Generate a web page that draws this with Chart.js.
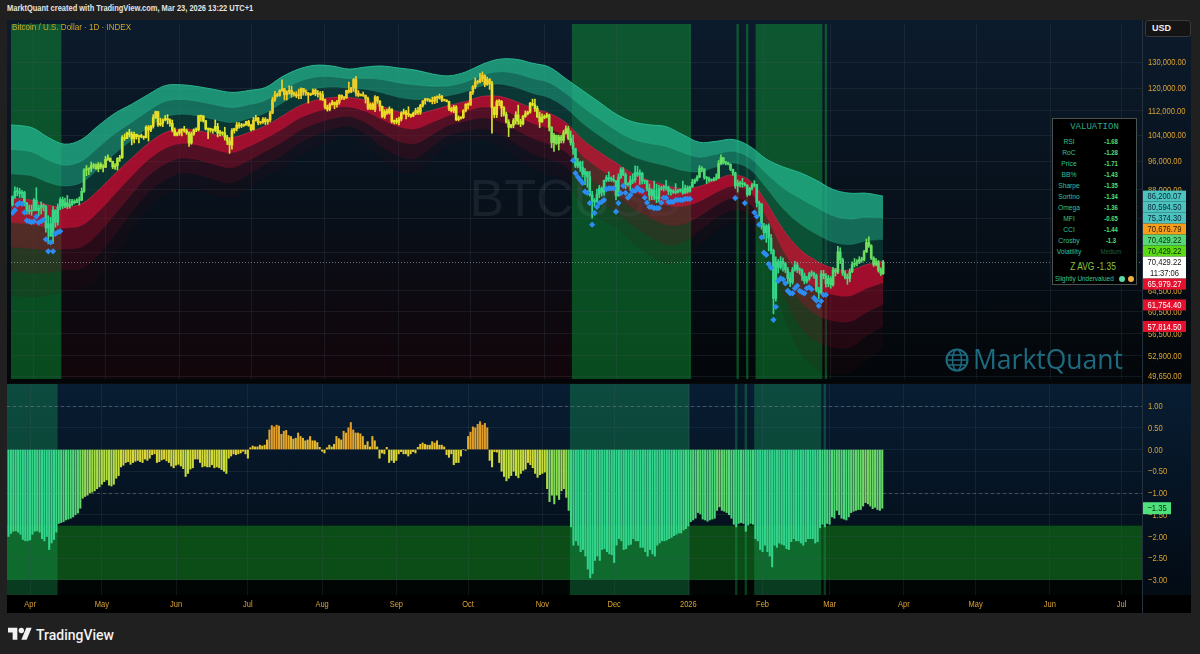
<!DOCTYPE html>
<html>
<head>
<meta charset="utf-8">
<title>BTCUSD valuation</title>
<script src="https://cdn.jsdelivr.net/npm/chart.js@4.4.1/dist/chart.umd.min.js"></script>
<style>
  html, body { margin: 0; padding: 0; background: #202020; }
  body { width: 1200px; height: 654px; position: relative; overflow: hidden;
         font-family: "Liberation Sans", Arial, sans-serif; }
  canvas { position: absolute; left: 7px; }
  #price { top: 20px; }
  #osc { top: 383px; }
  #head { position: absolute; left: 7px; top: 3px; font-size: 8.6px; font-weight: bold; color: #e4e4e4; white-space: nowrap;
          transform: scaleX(0.87); transform-origin: left center; }
  #usd { position: absolute; left: 1145px; top: 20px; width: 46px; height: 17px; box-sizing: border-box;
         background: #141414; border: 1px solid #3a3a3a; border-radius: 3px; color: #eee;
         font-size: 9px; font-weight: bold; line-height: 15px; padding-left: 6px; }
  #val { position: absolute; left: 1052px; top: 118px; width: 85px; height: 167px; box-sizing: border-box;
         background: #000; border: 1px solid #4a5250; }
  #val div { position: absolute; white-space: nowrap; line-height: 10px; height: 10px; }
  #val .lbl { left: 0; width: 32px; text-align: center; color: #2fc39b; font-size: 7.8px; transform: scaleX(0.86); }
  #val .num { left: 42px; width: 32px; text-align: center; color: #4fe07e; font-size: 7.8px; font-weight: bold; transform: scaleX(0.76); }
  #val .dim { color: #1d6238; font-weight: normal; }
  #val .ttl { left: 0; width: 83px; text-align: center; top: 3px; color: #29a88a;
              font: 9px "Liberation Mono", monospace; }
  #val .zavg { left: 0; width: 80px; text-align: center; top: 141px; height: 12px; line-height: 12px;
               color: #8cc43c; font-size: 10.5px; transform: scaleX(0.8); }
  #val .verdict { left: 2px; top: 155px; color: #35c99a; font-size: 8px; transform: scaleX(0.8); transform-origin: left center; }
  #val .dot { width: 6px; height: 6px; border-radius: 3px; top: 157px; }
  #foot { position: absolute; left: 8px; top: 625px; display: flex; align-items: center; gap: 4px;
          color: #f2f2f2; font: 500 14px Roboto, sans-serif; }
</style>
</head>
<body>
<div id="head">MarktQuant created with TradingView.com, Mar 23, 2026 13:22 UTC+1</div>
<canvas id="price" width="1184" height="363"></canvas>
<canvas id="osc" width="1184" height="230"></canvas>
<div id="usd">USD</div>
<div id="val"></div>
<div id="foot">
  <svg width="24" height="19" viewBox="0 0 36 28"><path d="M14 22H7V11H0V4h14v18zM28 22h-8l7.5-18h8L28 22z" fill="#f2f2f2"/><circle cx="20" cy="8" r="4" fill="#f2f2f2"/></svg>
  <span>TradingView</span>
</div>
<script>
// day 0 = Mar 22 2025, one bar per day from day 1 (Mar 23 2025) to day 366 (Mar 23 2026)
const prevClose = 84.0;

// daily closes, k USD
const closes = [
  86.1, 87.5, 87.4, 86.9, 87.2, 84.4, 82.6, 82.3, 82.5, // Mar
  85.2, 82.5, 83.1, 83.8, 83.5, 78.2, 79.2, 76.3, 82.6, 79.6, 83.4, 85.3, 83.7, 84.5, 83.6, 84.0, 84.9, 84.5, 85.1, 85.2, 87.5, 93.4, 93.7, 93.9, 94.7, 94.6, 93.8, 95.0, 94.3, 94.2, // Apr
  96.5, 96.9, 95.9, 94.3, 94.7, 96.8, 97.0, 103.2, 102.9, 104.7, 104.2, 102.8, 104.2, 103.5, 103.8, 103.5, 103.2, 106.5, 105.6, 106.8, 109.7, 111.7, 107.3, 107.8, 109.0, 109.4, 108.9, 107.8, 105.6, 103.9, 104.6, // May
  105.6, 105.8, 105.4, 104.7, 101.5, 104.3, 105.6, 105.7, 110.3, 110.2, 108.7, 105.9, 106.1, 105.5, 105.6, 106.8, 104.6, 104.9, 104.6, 103.3, 102.1, 100.9, 105.4, 106.0, 107.3, 106.9, 107.1, 107.3, 108.4, 107.1, // Jun
  105.7, 108.8, 109.6, 108.0, 108.2, 109.2, 108.3, 108.9, 111.3, 115.9, 117.5, 117.4, 119.1, 119.8, 117.7, 118.7, 119.3, 117.9, 117.9, 117.3, 117.4, 119.9, 118.8, 118.3, 117.6, 117.9, 119.4, 118.0, 117.9, 117.8, 115.8, // Jul
  113.3, 112.5, 114.2, 115.0, 114.1, 115.0, 117.5, 116.7, 116.5, 119.3, 118.7, 120.2, 123.3, 118.3, 117.4, 117.5, 117.4, 116.3, 112.9, 114.3, 112.5, 116.9, 115.4, 113.5, 110.1, 111.8, 111.3, 112.6, 108.4, 108.8, 108.2, // Aug
  109.2, 111.2, 111.7, 110.7, 110.7, 110.2, 111.2, 112.1, 111.5, 113.9, 115.5, 116.1, 115.9, 115.3, 115.4, 116.8, 116.5, 117.1, 115.7, 115.7, 115.3, 112.7, 112.0, 113.3, 109.0, 109.6, 109.7, 112.1, 114.3, 114.0, // Sep
  118.6, 120.6, 122.3, 122.4, 123.5, 124.8, 121.5, 123.3, 121.7, 113.2, 110.7, 115.2, 115.3, 113.1, 110.8, 108.2, 106.5, 107.2, 108.7, 110.6, 108.5, 107.6, 110.1, 111.0, 111.6, 114.6, 114.1, 112.9, 110.0, 108.3, 109.6, // Oct
  110.1, 110.6, 106.5, 101.6, 103.9, 101.3, 103.4, 102.3, 104.7, 106.0, 103.0, 101.6, 99.7, 94.6, 95.6, 94.2, 92.2, 92.9, 91.5, 86.6, 85.1, 84.7, 86.8, 88.3, 87.3, 90.5, 91.3, 90.9, 90.8, 90.4, // Nov
  86.3, 91.3, 93.5, 92.1, 89.4, 89.3, 90.4, 90.6, 92.7, 92.0, 92.5, 90.3, 90.3, 88.2, 86.4, 87.8, 86.1, 85.5, 88.1, 88.4, 88.6, 88.5, 87.5, 87.6, 87.2, 87.3, 87.8, 87.8, 87.1, 88.4, 87.5, // Dec
  88.7, 90.0, 90.6, 91.4, 93.9, 93.7, 91.3, 91.0, 90.5, 90.6, 90.8, 91.2, 95.3, 97.0, 95.6, 95.5, 95.1, 93.6, 92.6, 89.0, 89.8, 89.5, 89.5, 89.2, 86.6, 88.3, 89.2, 89.3, 84.5, 84.2, 78.6, // Jan
  77.1, 78.7, 75.8, 73.0, 63.0, 70.5, 69.3, 70.6, 70.1, 68.8, 67.0, 66.2, 68.8, 69.8, 68.8, 68.7, 67.5, 66.4, 66.9, 67.9, 68.0, 67.6, 64.6, 64.1, 67.9, 67.5, 65.9, 67.0, // Feb
  65.7, 68.8, 68.3, 72.7, 70.9, 68.1, 67.3, 67.0, 68.4, 69.9, 70.2, 70.5, 70.9, 70.9, 72.7, 74.8, 74.1, 71.3, 69.9, 70.5, 68.7, 68.0, 70.43 // Mar
];
const highs = [
  86.3, 88.7, 88.5, 88.3, 87.8, 87.5, 84.6, 83.9, 83.9,
  85.6, 88.5, 83.9, 84.7, 84.2, 83.8, 81.2, 80.8, 83.5, 82.7, 84.2, 85.8, 86.0, 85.7, 86.4, 85.4, 85.4, 85.3, 85.6, 86.0, 88.4, 93.8, 94.7, 94.0, 95.7, 95.3, 95.2, 95.6, 95.5, 95.0,
  97.4, 97.9, 96.9, 96.0, 95.3, 97.0, 97.7, 103.8, 104.3, 104.9, 105.8, 105.0, 104.9, 104.3, 104.0, 104.3, 103.7, 107.0, 107.1, 107.1, 110.7, 111.9, 111.8, 109.5, 109.3, 110.4, 110.7, 109.3, 108.9, 106.3, 104.9,
  105.9, 105.9, 106.8, 105.9, 105.0, 105.0, 106.0, 106.3, 110.5, 110.4, 110.4, 108.8, 106.2, 106.2, 106.0, 108.9, 107.8, 105.5, 105.0, 106.5, 103.9, 103.1, 106.1, 106.2, 108.1, 108.0, 107.8, 107.6, 108.5, 108.8,
  107.5, 109.8, 110.5, 109.8, 108.4, 109.7, 109.7, 109.2, 111.9, 116.8, 118.9, 118.2, 119.5, 123.2, 120.0, 119.1, 120.9, 120.8, 118.6, 118.8, 119.7, 120.2, 120.0, 119.5, 118.5, 118.3, 119.8, 119.8, 119.2, 118.8, 118.9,
  116.1, 114.0, 114.7, 115.7, 115.1, 115.7, 117.7, 117.6, 117.0, 119.3, 122.3, 120.3, 123.7, 124.5, 119.2, 118.0, 118.6, 117.6, 116.8, 114.7, 114.8, 117.4, 117.0, 115.6, 113.7, 112.4, 112.6, 113.4, 112.7, 108.9, 109.5,
  109.9, 111.7, 112.6, 112.2, 113.4, 110.9, 111.6, 112.9, 113.2, 114.3, 115.6, 116.4, 116.3, 116.1, 116.8, 117.0, 117.3, 117.9, 117.5, 116.1, 115.9, 115.4, 113.3, 113.9, 113.8, 110.3, 110.0, 112.4, 114.5, 114.8,
  118.9, 121.0, 123.9, 122.9, 125.7, 126.2, 125.1, 124.2, 123.7, 122.6, 113.4, 115.8, 115.9, 115.6, 113.5, 111.6, 109.0, 107.5, 109.4, 111.7, 114.0, 109.2, 110.5, 112.0, 111.9, 115.0, 116.1, 116.1, 113.6, 111.6, 111.0,
  110.6, 111.2, 110.8, 106.7, 104.5, 104.0, 104.0, 103.9, 105.5, 107.0, 106.8, 105.3, 104.0, 99.9, 96.8, 96.0, 96.0, 93.8, 93.0, 93.0, 87.5, 85.6, 88.1, 89.1, 88.7, 90.6, 91.9, 92.9, 91.5, 91.9,
  90.5, 92.3, 94.1, 94.1, 92.6, 89.9, 91.7, 92.3, 94.6, 94.5, 93.5, 92.8, 90.6, 90.5, 89.5, 88.2, 90.3, 89.4, 89.1, 88.9, 89.1, 90.5, 88.9, 88.2, 88.0, 89.6, 88.0, 88.1, 90.3, 89.2, 89.0,
  88.9, 90.8, 90.9, 91.8, 94.7, 94.4, 93.8, 91.6, 91.4, 90.9, 91.3, 92.3, 96.2, 97.9, 97.1, 95.9, 95.6, 95.2, 93.7, 92.8, 90.6, 90.3, 91.1, 89.9, 89.3, 88.6, 89.6, 90.4, 89.4, 84.9, 84.3,
  79.3, 79.0, 79.2, 76.7, 73.3, 71.6, 71.0, 71.6, 71.3, 70.4, 69.3, 68.2, 69.3, 70.6, 70.4, 69.2, 69.0, 68.1, 67.4, 68.3, 68.6, 68.3, 67.9, 65.2, 68.6, 68.7, 68.0, 67.6,
  67.4, 69.3, 69.1, 73.9, 73.6, 71.3, 68.6, 67.9, 69.0, 70.5, 71.2, 71.0, 71.6, 71.5, 73.0, 75.6, 76.1, 74.3, 71.6, 71.2, 70.8, 69.2, 70.8
];
const lows = [
  83.6, 85.6, 86.3, 85.9, 85.8, 83.7, 81.6, 81.6, 81.3,
  82.4, 82.4, 81.2, 81.6, 82.4, 77.2, 74.5, 76.2, 74.6, 78.4, 78.9, 82.7, 83.0, 83.2, 83.0, 83.1, 83.8, 84.2, 84.5, 83.9, 85.0, 87.2, 91.8, 92.1, 92.9, 93.9, 93.6, 92.9, 93.7, 92.9,
  94.1, 96.2, 95.8, 93.8, 93.6, 93.4, 95.9, 96.8, 102.3, 102.8, 103.4, 100.9, 101.5, 102.7, 101.5, 103.1, 102.6, 103.1, 102.1, 105.1, 106.2, 109.4, 106.8, 106.9, 106.7, 108.6, 107.6, 106.8, 105.0, 103.7, 103.7,
  103.9, 103.7, 104.9, 104.2, 100.4, 101.1, 103.9, 105.1, 105.3, 108.4, 108.2, 105.6, 102.8, 104.9, 104.6, 105.1, 103.4, 103.7, 103.9, 102.4, 101.0, 98.3, 99.6, 104.6, 105.3, 106.2, 106.4, 106.8, 107.1, 106.8,
  105.3, 105.6, 108.5, 107.3, 107.5, 107.8, 107.4, 107.5, 108.3, 111.0, 115.3, 116.9, 117.1, 118.9, 115.8, 115.8, 117.9, 116.8, 117.2, 116.6, 116.2, 116.3, 117.5, 117.4, 114.7, 117.4, 117.7, 117.3, 116.8, 115.8, 115.6,
  112.7, 111.9, 112.0, 114.0, 112.7, 113.3, 114.3, 115.9, 115.9, 116.4, 118.2, 118.4, 118.9, 117.2, 116.9, 117.2, 117.1, 114.7, 112.4, 112.4, 112.5, 111.7, 114.6, 112.0, 109.7, 109.4, 110.8, 110.9, 107.9, 107.6, 107.6,
  107.3, 108.6, 110.8, 109.3, 110.0, 109.8, 110.0, 110.7, 110.8, 110.8, 113.3, 114.3, 115.3, 115.1, 114.4, 114.5, 114.8, 116.1, 115.2, 115.4, 115.1, 112.1, 111.6, 111.4, 108.7, 108.6, 109.2, 109.4, 111.6, 112.7,
  113.9, 117.8, 119.9, 121.6, 122.0, 122.5, 120.6, 121.1, 119.6, 104.6, 109.7, 109.7, 113.8, 110.1, 110.2, 107.9, 103.5, 106.3, 106.3, 107.5, 107.4, 106.7, 107.3, 109.8, 110.6, 111.2, 113.7, 111.8, 109.7, 106.4, 108.1,
  109.3, 109.6, 105.3, 100.0, 98.9, 101.0, 99.3, 101.5, 101.5, 104.3, 102.5, 100.8, 98.0, 94.1, 94.0, 93.0, 91.4, 89.3, 88.6, 86.2, 80.6, 83.6, 84.7, 85.8, 86.2, 86.4, 90.1, 90.2, 90.2, 90.0,
  85.2, 86.2, 91.0, 91.8, 88.2, 88.9, 87.7, 89.6, 89.9, 91.6, 89.4, 89.5, 89.6, 87.6, 85.1, 85.3, 85.3, 84.5, 84.8, 87.8, 87.6, 87.8, 86.6, 86.5, 86.9, 86.8, 87.1, 87.3, 86.7, 86.9, 87.0,
  87.3, 88.6, 89.6, 90.3, 91.2, 92.9, 90.8, 89.6, 90.0, 90.2, 90.3, 90.5, 91.0, 95.0, 95.2, 94.9, 94.9, 93.2, 91.9, 88.3, 87.3, 88.7, 88.6, 88.9, 86.1, 86.4, 87.9, 88.7, 83.4, 81.2, 77.9,
  75.6, 74.8, 72.9, 72.2, 60.1, 62.5, 68.1, 68.9, 68.5, 68.2, 65.9, 65.3, 65.8, 68.5, 68.2, 67.9, 66.6, 65.9, 66.0, 66.6, 67.4, 67.0, 64.3, 62.9, 63.9, 66.9, 65.2, 65.3,
  65.0, 65.4, 67.5, 68.0, 70.1, 67.6, 66.9, 65.8, 66.3, 68.2, 69.4, 69.6, 70.1, 70.4, 70.7, 72.5, 73.7, 71.0, 69.5, 69.6, 68.3, 67.6, 67.8
];

// Z AVG valuation score, one value per bar
const zAvg = [
  -2.0, -1.93, -1.88, -1.87, -1.9, -1.95, -2.07, -2.1, -2.1,
  -2.08, -1.95, -1.88, -1.87, -1.9, -2.05, -2.1, -2.0, -2.3, -2.15, -2.07, -1.9, -1.7, -1.68, -1.66, -1.62, -1.6, -1.58, -1.55, -1.5, -1.46, -1.35, -1.12, -1.08, -1.05, -1.0, -0.98, -0.95, -0.9, -0.86,
  -0.8, -0.74, -0.7, -0.82, -0.84, -0.8, -0.66, -0.6, -0.4, -0.36, -0.3, -0.28, -0.34, -0.3, -0.27, -0.25, -0.28, -0.3, -0.22, -0.25, -0.2, -0.12, -0.1, -0.3, -0.28, -0.24, -0.22, -0.26, -0.3, -0.38, -0.42,
  -0.36, -0.34, -0.38, -0.44, -0.62, -0.55, -0.45, -0.42, -0.22, -0.22, -0.3, -0.4, -0.38, -0.4, -0.4, -0.35, -0.42, -0.4, -0.42, -0.46, -0.5, -0.55, -0.2, -0.15, -0.1, -0.12, -0.1, -0.08, -0.04, -0.1,
  -0.2, 0.04, 0.08, 0.06, 0.06, 0.1, 0.08, 0.1, 0.22, 0.45, 0.55, 0.52, 0.56, 0.54, 0.35, 0.42, 0.44, 0.32, 0.3, 0.24, 0.26, 0.38, 0.3, 0.26, 0.2, 0.22, 0.3, 0.2, 0.2, 0.16, 0.05,
  -0.04, -0.08, 0.04, 0.1, 0.06, 0.12, 0.3, 0.25, 0.22, 0.42, 0.38, 0.5, 0.62, 0.45, 0.38, 0.38, 0.36, 0.3, 0.1, 0.18, 0.06, 0.3, 0.2, 0.06, -0.2, -0.08, -0.1, 0.05, -0.3, -0.25, -0.3,
  -0.25, -0.1, -0.05, -0.1, -0.1, -0.15, -0.1, -0.05, -0.08, 0.05, 0.12, 0.15, 0.12, 0.1, 0.1, 0.18, 0.15, 0.2, 0.1, 0.1, 0.06, -0.12, -0.18, -0.1, -0.35, -0.3, -0.3, -0.15, 0.0, -0.02,
  0.3, 0.4, 0.52, 0.5, 0.58, 0.64, 0.56, 0.6, 0.5, -0.25, -0.4, -0.05, -0.06, -0.3, -0.5, -0.62, -0.72, -0.66, -0.6, -0.5, -0.6, -0.65, -0.55, -0.48, -0.45, -0.3, -0.35, -0.42, -0.55, -0.64, -0.58,
  -0.55, -0.52, -0.9, -1.2, -1.05, -1.25, -1.05, -1.15, -0.95, -0.9, -1.1, -1.4, -1.78, -2.2, -2.1, -2.2, -2.35, -2.3, -2.45, -2.75, -2.95, -2.85, -2.55, -2.45, -2.55, -2.3, -2.28, -2.35, -2.4, -2.42,
  -2.6, -2.2, -2.05, -2.1, -2.3, -2.28, -2.2, -2.18, -2.05, -2.1, -2.1, -2.25, -2.25, -2.35, -2.45, -2.3, -2.4, -2.45, -2.2, -2.15, -2.1, -2.1, -2.08, -2.05, -2.02, -1.98, -1.95, -1.92, -1.92, -1.85, -1.82,
  -1.76, -1.66, -1.62, -1.58, -1.45, -1.48, -1.6, -1.62, -1.65, -1.62, -1.6, -1.58, -1.4, -1.32, -1.4, -1.42, -1.45, -1.5, -1.58, -1.72, -1.78, -1.7, -1.68, -1.7, -1.88, -1.74, -1.7, -1.72, -2.05, -2.1, -2.3,
  -2.35, -2.2, -2.35, -2.45, -2.7, -2.2, -2.25, -2.15, -2.18, -2.2, -2.28, -2.3, -2.12, -2.05, -2.1, -2.1, -2.15, -2.2, -2.12, -2.05, -2.05, -2.05, -2.15, -2.12, -1.8, -1.72, -1.78, -1.7,
  -1.72, -1.55, -1.58, -1.4, -1.5, -1.58, -1.6, -1.62, -1.55, -1.45, -1.42, -1.4, -1.38, -1.38, -1.3, -1.22, -1.25, -1.3, -1.36, -1.33, -1.38, -1.4, -1.35
];

// valuation band envelope, weekly samples (k USD): top of green cloud and green/red boundary
const bandDays = [0, 9, 16, 23, 30, 37, 44, 51, 58, 65, 72, 79, 86, 93, 100, 107, 114, 121, 128, 135, 142, 149, 156, 163, 170, 177, 184, 191, 198, 205, 212, 219, 226, 233, 240, 247, 254, 261, 268, 275, 282, 289, 296, 303, 310, 317, 324, 331, 338, 345, 352, 359, 366];
const bandTop = [107.3, 106.4, 103.2, 101.1, 102.6, 107.0, 111.2, 114.3, 117.8, 121.0, 121.3, 120.6, 119.5, 118.5, 119.2, 120.3, 124.3, 127.3, 128.8, 128.5, 127.3, 128.1, 128.5, 127.7, 126.9, 125.4, 124.7, 126.2, 129.2, 131.2, 131.2, 129.6, 128.1, 123.6, 119.2, 115.0, 110.9, 108.3, 107.3, 106.7, 104.1, 101.7, 102.0, 102.6, 100.5, 96.6, 94.3, 92.7, 90.5, 88.0, 87.0, 87.0, 86.2];
const bandMid = [85.7, 85.2, 83.9, 83.4, 84.2, 87.8, 92.4, 96.9, 101.4, 104.8, 106.0, 105.4, 104.1, 103.2, 104.8, 107.0, 110.2, 113.6, 115.7, 116.7, 116.7, 115.7, 113.6, 111.6, 110.9, 112.2, 113.9, 115.3, 117.1, 117.1, 115.3, 112.9, 111.2, 108.0, 102.6, 98.7, 95.5, 92.4, 90.5, 89.1, 88.3, 88.8, 90.7, 92.1, 90.5, 84.7, 77.9, 73.3, 70.7, 69.1, 68.7, 69.9, 70.68];

// blue signal diamonds: runs starting at a given day (k USD)
const diamondStart = [1, 236, 304, 308, 312];
const diamondVals = [
  [81.9, 82.6, 84.0, 84.4, 84.2, 82.0, 80.0, 79.8, 79.6, 79.8, 81.0, 79.5, 79.8, 80.2, 75.5, 72.8, 74.8, 72.8, 76.8, 77.2, 77.4],
  [96.2, 92.5, 91.4, 90.6, 89.8, 87.4, 87.1, 84.4, 79.0, 81.9, 83.4, 84.4, 84.7, 85.2, 88.1, 88.3, 88.3, 88.3, 82.2, 84.4,
   87.0, 89.0, 87.1, 85.8, 86.5, 87.6, 87.6, 88.5, 87.8, 87.6, 85.8, 84.5, 83.4, 83.4, 83.1, 83.1, 83.1, 84.5, 85.8, 85.8,
   84.7, 84.7, 84.7, 85.2, 85.2, 85.2, 85.2, 85.5, 85.5, 85.5],
  [85.7],
  [84.4],
  [82.0, 81.0, 79.0, 76.0, 72.5, 72.0, 70.0, 69.2, 59.0, 61.4, 66.5, 67.0, 66.8, 66.0, 64.5, 64.0, 64.0, 65.0, 65.5, 64.5,
   64.2, 64.0, 65.0, 65.2, 64.8, 63.1, 62.6, 61.6, 62.5, 63.7, 63.7]
];

// undervaluation highlight spans and the calmer overvalued stretch (day ranges)
const hiZones = [[0, 21.5], [235.5, 285.5], [304.5, 305.5], [308.5, 309.5], [312.5, 340.5], [341.5, 342.5]];
const warmZones = [[21.5, 235.5]];

// axes
const priceTicks = [130000, 120000, 112000, 104000, 96000, 88000, 80500, 72500, 64500, 60500, 56500, 52900, 49650];
const oscTicks = [1, 0.5, 0, -0.5, -1, -1.5, -2, -2.5, -3];
const monthDays = [10, 40, 71, 101, 132, 163, 193, 224, 254, 285, 316, 344, 375, 405, 436, 466];
const monthLabels = ['Apr', 'May', 'Jun', 'Jul', 'Aug', 'Sep', 'Oct', 'Nov', 'Dec', '2026', 'Feb', 'Mar', 'Apr', 'May', 'Jun', 'Jul'];

// last-value tags on the price scale
const lastLevels = [86200.07, 80594.50, 75374.30, 70676.79, 70429.22, 70429.22, 70429.22, 65979.27, 61754.40, 57814.50];
const lastBg = ['#4cc3bf', '#4cc3bf', '#4cc3bf', '#f79d1c', '#58d77a', '#5bd916', '#ffffff', '#e3112d', '#e3112d', '#e3112d'];
const lastFg = ['#0b2530', '#0b2530', '#0b2530', '#2a1800', '#0a2a12', '#0a2a05', '#131313', '#ffffff', '#ffffff', '#ffffff'];
const countdown = '11:37:06';

// valuation table
const valNames = ['RSI', 'RoC', 'Price', 'BB%', 'Sharpe', 'Sortino', 'Omega', 'MFI', 'CCI', 'Crosby', 'Volatility'];
const valScores = ['-1.68', '-1.28', '-1.71', '-1.43', '-1.35', '-1.34', '-1.36', '-0.65', '-1.44', '-1.3', 'Medium'];
const zAvgText = 'Z AVG -1.35';
const verdict = 'Slightly Undervalued';

const X_MIN = 0.376, X_MAX = 474.5;
const P_MIN = 49210, P_MAX = 146180;
const O_MIN = -3.345, O_MAX = 1.529;
const FONT = '"Liberation Sans", Arial, sans-serif';
const GOLD = '#dba233';
const GRID = 'rgba(70,85,100,0.22)';
const SQUEEZE = 0.8; // labels are drawn condensed like the original narrow UI font
Chart.defaults.font.family = FONT;

// ---------- helpers ----------
function ramp(stops, cols) {
  const rgb = c => `rgb(${c.map(Math.round).join(',')})`;
  return z => {
    if (z <= stops[0]) return rgb(cols[0]);
    for (let i = 1; i < stops.length; i++) {
      if (z <= stops[i]) {
        const t = (z - stops[i - 1]) / (stops[i] - stops[i - 1]);
        return rgb(cols[i - 1].map((v, k) => v + (cols[i][k] - v) * t));
      }
    }
    return rgb(cols[cols.length - 1]);
  };
}
const oscColor = ramp([-2.0, -1.5, -1.0, -0.5, 0.0, 0.5],
  [[50, 212, 140], [84, 216, 118], [156, 220, 76], [204, 222, 60], [232, 204, 52], [226, 158, 40]]);
const candleColor = ramp([-2.0, -1.5, -1.0, -0.6, -0.3, 0.3],
  [[52, 214, 138], [80, 218, 112], [150, 228, 70], [200, 232, 50], [232, 228, 40], [240, 206, 40]]);

const fmtPrice = v => Number(v).toLocaleString('en-US', { minimumFractionDigits: 2, maximumFractionDigits: 2 });
const fmtOsc = v => (v < 0 ? '\u2212' : '') + Math.abs(v).toFixed(2);

function squeezeText(ctx, text, x, y, align, sx = SQUEEZE) {
  ctx.save();
  ctx.translate(x, y);
  ctx.scale(sx, 1);
  ctx.textAlign = align;
  ctx.fillText(text, 0, 0);
  ctx.restore();
}

function drawZones(chart, zones, color) {
  const { ctx, chartArea: a, scales: { x } } = chart;
  ctx.save();
  ctx.fillStyle = color;
  zones.forEach(([s, e]) => {
    const x0 = Math.max(a.left, x.getPixelForValue(s));
    const x1 = Math.min(a.right, x.getPixelForValue(e));
    if (x1 > x0) ctx.fillRect(x0, a.top, x1 - x0, a.bottom - a.top);
  });
  ctx.restore();
}

function drawAxisLabels(chart, ticks, fmt) {
  const { ctx, chartArea: a, scales: { y } } = chart;
  ctx.save();
  ctx.fillStyle = GOLD;
  ctx.font = '9.5px ' + FONT;
  ctx.textBaseline = 'middle';
  ticks.forEach(v => squeezeText(ctx, fmt(v), a.right + 6, y.getPixelForValue(v) + 0.5, 'left'));
  ctx.restore();
}

// ---------- price pane ----------
const days = closes.map((_, i) => i + 1);
const opens = closes.map((c, i) => (i === 0 ? prevClose : closes[i - 1]));

const lnTop = bandTop.map(Math.log), lnMid = bandMid.map(Math.log);
const stepLn = lnTop.map((t, i) => (t - lnMid[i]) / 3);
const bandLevels = [3, 2, 1, 0, -1, -2, -3, -4];
const bandFills = ['rgba(34,176,136,0.80)', 'rgba(26,148,116,0.70)', 'rgba(12,82,68,0.52)',
                   'rgba(200,14,50,0.80)', 'rgba(140,12,38,0.55)', 'rgba(100,10,28,0.32)', 'rgba(70,8,20,0.12)', 'transparent'];
const bandEdges = ['rgba(40,190,150,0.9)', 'rgba(50,190,150,0.5)', 'rgba(40,150,120,0.4)',
                   'rgba(225,30,70,0.9)', 'rgba(190,30,60,0.4)', 'rgba(140,25,45,0.26)', 'rgba(110,20,35,0.16)', 'rgba(90,15,30,0.08)'];

const bandSets = bandLevels.map((k, j) => ({
  type: 'line',
  data: bandDays.map((d, i) => ({ x: d, y: 1000 * Math.exp(lnMid[i] + k * stepLn[i]) })),
  borderColor: bandEdges[j],
  borderWidth: 1,
  backgroundColor: bandFills[j],
  fill: j < bandLevels.length - 1 ? '+1' : false,
  pointRadius: 0,
  tension: 0.35,
  order: 20 + j
}));

const candleColors = zAvg.map(candleColor);
const bodySet = {
  type: 'bar',
  data: days.map((d, i) => ({ x: d, y: [opens[i] * 1000, closes[i] * 1000] })),
  backgroundColor: candleColors,
  barThickness: 2,
  minBarLength: 1,
  grouped: false,
  order: 2
};
const wickSet = {
  type: 'bar',
  data: days.map((d, i) => ({
    x: d,
    y: [Math.min(lows[i], opens[i], closes[i]) * 1000, Math.max(highs[i], opens[i], closes[i]) * 1000]
  })),
  backgroundColor: candleColors,
  barThickness: 1,
  grouped: false,
  order: 3
};
const diamondPts = [];
diamondStart.forEach((s, r) => diamondVals[r].forEach((v, i) => diamondPts.push({ x: s + i, y: v * 1000 })));
const diamondSet = {
  type: 'line',
  data: diamondPts,
  showLine: false,
  pointStyle: 'rectRot',
  pointRadius: 3.1,
  pointBackgroundColor: '#2b8df2',
  pointBorderWidth: 0,
  order: 1
};

const priceBg = {
  id: 'priceBg',
  beforeDraw(chart) {
    const { ctx, width, height, chartArea: a, scales: { x } } = chart;
    const g = ctx.createLinearGradient(0, 0, 0, height);
    g.addColorStop(0, '#0c1b2c');
    g.addColorStop(0.55, '#07101a');
    g.addColorStop(1, '#030609');
    ctx.fillStyle = g;
    ctx.fillRect(0, 0, width, height);
    // faint maroon wash at the bottom of the overvalued stretch
    const w = ctx.createLinearGradient(0, a.top + 170, 0, a.bottom);
    w.addColorStop(0, 'rgba(50,4,12,0)');
    w.addColorStop(1, 'rgba(50,4,12,0.32)');
    ctx.fillStyle = w;
    warmZones.forEach(([s, e]) => {
      const x0 = x.getPixelForValue(s), x1 = x.getPixelForValue(e);
      ctx.fillRect(x0, a.top + 170, x1 - x0, a.bottom - a.top - 170);
    });
    drawZones(chart, hiZones, 'rgba(16,165,58,0.44)');
  },
  beforeDatasetsDraw(chart) {
    const { ctx, chartArea: a } = chart;
    ctx.save();
    ctx.font = '52px ' + FONT;
    ctx.fillStyle = 'rgba(140,155,170,0.12)';
    ctx.textAlign = 'center';
    ctx.textBaseline = 'middle';
    ctx.fillText('BTCUSD', (a.left + a.right) / 2, (a.top + a.bottom) / 2);
    ctx.restore();
  }
};

const priceOverlay = {
  id: 'priceOverlay',
  afterDraw(chart) {
    const { ctx, chartArea: a, scales: { y } } = chart;
    ctx.save();
    // pane separator
    ctx.fillStyle = '#26323e';
    ctx.fillRect(a.right, 0, 1, chart.height);
    // last price dotted line
    const yp = Math.round(y.getPixelForValue(lastLevels[6])) + 0.5;
    ctx.strokeStyle = 'rgba(150,160,170,0.7)';
    ctx.setLineDash([1, 2]);
    ctx.beginPath(); ctx.moveTo(a.left, yp); ctx.lineTo(a.right, yp); ctx.stroke();
    ctx.setLineDash([]);
    // watermark logo
    const lc = '#1e6b80', cx = 950, cy = 340, r = 10.5;
    ctx.strokeStyle = lc; ctx.lineWidth = 2;
    ctx.beginPath(); ctx.arc(cx, cy, r, 0, Math.PI * 2); ctx.stroke();
    ctx.lineWidth = 1.5;
    ctx.beginPath(); ctx.ellipse(cx, cy, 4.5, r, 0, 0, Math.PI * 2); ctx.stroke();
    ctx.beginPath();
    ctx.moveTo(cx - r, cy); ctx.lineTo(cx + r, cy);
    ctx.moveTo(cx - r + 2, cy - 5); ctx.lineTo(cx + r - 2, cy - 5);
    ctx.moveTo(cx - r + 2, cy + 5); ctx.lineTo(cx + r - 2, cy + 5);
    ctx.stroke();
    ctx.fillStyle = lc;
    ctx.font = '26.5px "Open Sans", sans-serif';
    ctx.textAlign = 'left';
    ctx.textBaseline = 'alphabetic';
    ctx.fillText('MarktQuant', 966, 349);
    // symbol title
    ctx.fillStyle = '#cfa526';
    ctx.font = '9.6px ' + FONT;
    ctx.textBaseline = 'middle';
    squeezeText(ctx, 'Bitcoin / U.S. Dollar \u00b7 1D \u00b7 INDEX', 5, 7, 'left', 0.84);
    ctx.restore();

    drawAxisLabels(chart, priceTicks, fmtPrice);

    // last-value tags, stacked away from the live price tag
    ctx.save();
    const x0 = a.right + 1, w = 43, h = 11, anchor = 6;
    const pos = lastLevels.map(v => y.getPixelForValue(v));
    const top = [];
    top[anchor] = pos[anchor] - h / 2;
    let lim = top[anchor];
    for (let i = anchor - 1; i >= 0; i--) { top[i] = Math.min(pos[i] - h / 2, lim - h); lim = top[i]; }
    lim = top[anchor] + 2 * h;
    for (let i = anchor + 1; i < lastLevels.length; i++) { top[i] = Math.max(pos[i] - h / 2, lim); lim = top[i] + h; }
    ctx.font = '9.5px ' + FONT;
    ctx.textBaseline = 'middle';
    lastLevels.forEach((v, i) => {
      ctx.fillStyle = lastBg[i];
      ctx.fillRect(x0, top[i], w, i === anchor ? 2 * h : h);
      ctx.fillStyle = lastFg[i];
      squeezeText(ctx, fmtPrice(v), x0 + w / 2, top[i] + h / 2 + 0.5, 'center');
      if (i === anchor) squeezeText(ctx, countdown, x0 + w / 2, top[i] + h * 1.5 + 0.5, 'center');
    });
    ctx.restore();
  }
};

new Chart(document.getElementById('price'), {
  type: 'bar',
  data: { datasets: [...bandSets, bodySet, wickSet, diamondSet] },
  options: {
    responsive: false,
    animation: false,
    events: [],
    layout: { padding: 0 },
    plugins: { legend: { display: false }, tooltip: { enabled: false } },
    scales: {
      x: {
        type: 'linear', min: X_MIN, max: X_MAX, offset: false,
        grid: { color: GRID, drawTicks: false, offset: false },
        border: { display: false },
        ticks: { display: false, autoSkip: false },
        afterBuildTicks: s => { s.ticks = monthDays.map(v => ({ value: v })); },
        afterFit: s => { s.height = 0; s.paddingLeft = 0; s.paddingRight = 0; }
      },
      y: {
        type: 'logarithmic', position: 'right', min: P_MIN, max: P_MAX,
        grid: { color: GRID, drawTicks: false },
        border: { display: false },
        ticks: { display: false, autoSkip: false },
        afterBuildTicks: s => { s.ticks = priceTicks.map(v => ({ value: v })); },
        afterFit: s => { s.width = 49; s.paddingTop = 0; s.paddingBottom = 0; }
      }
    }
  },
  plugins: [priceBg, priceOverlay]
});

// ---------- oscillator pane ----------
const oscBg = {
  id: 'oscBg',
  beforeDraw(chart) {
    const { ctx, chartArea: a, width, height, scales: { y } } = chart;
    const g = ctx.createLinearGradient(0, 0, 0, a.bottom);
    g.addColorStop(0, '#081d33');
    g.addColorStop(1, '#030b14');
    ctx.fillStyle = g;
    ctx.fillRect(0, 0, width, a.bottom);
    ctx.fillStyle = '#000';
    ctx.fillRect(0, a.bottom, width, height - a.bottom);
    const y1 = y.getPixelForValue(-1.75), y2 = y.getPixelForValue(-3);
    ctx.fillStyle = '#0b4c17';
    ctx.fillRect(a.left, y1, a.right - a.left, y2 - y1);
    ctx.fillStyle = '#010504';
    ctx.fillRect(a.left, y2, a.right - a.left, a.bottom - y2);
    drawZones(chart, hiZones, 'rgba(24,170,90,0.33)');
  },
  beforeDatasetsDraw(chart) {
    const { ctx, chartArea: a, scales: { y } } = chart;
    ctx.save();
    ctx.strokeStyle = 'rgba(130,140,150,0.45)';
    ctx.setLineDash([3, 3]);
    [1, -1].forEach(v => {
      const yy = Math.round(y.getPixelForValue(v)) + 0.5;
      ctx.beginPath(); ctx.moveTo(a.left, yy); ctx.lineTo(a.right, yy); ctx.stroke();
    });
    ctx.restore();
  },
  afterDraw(chart) {
    const { ctx, chartArea: a, scales: { x, y } } = chart;
    ctx.save();
    ctx.fillStyle = '#26323e';
    ctx.fillRect(a.right, 0, 1, chart.height);
    ctx.fillStyle = '#0a0a0a';
    ctx.fillRect(0, 0, chart.width, 1);
    // month labels
    ctx.fillStyle = GOLD;
    ctx.font = '9.4px ' + FONT;
    ctx.textBaseline = 'middle';
    monthDays.forEach((d, i) => squeezeText(ctx, monthLabels[i], x.getPixelForValue(d), a.bottom + 9.5, 'center'));
    ctx.restore();

    drawAxisLabels(chart, oscTicks, fmtOsc);

    ctx.save();
    const last = zAvg[zAvg.length - 1];
    const yy = y.getPixelForValue(last);
    ctx.fillStyle = '#4ee07a';
    ctx.fillRect(a.right + 1, yy - 6, 28, 12);
    ctx.fillStyle = '#0a2a12';
    ctx.font = '9.5px ' + FONT;
    ctx.textBaseline = 'middle';
    squeezeText(ctx, fmtOsc(last), a.right + 15, yy + 0.5, 'center');
    ctx.restore();
  }
};

new Chart(document.getElementById('osc'), {
  type: 'bar',
  data: {
    datasets: [{
      data: zAvg.map((z, i) => ({ x: days[i], y: z })),
      backgroundColor: zAvg.map(oscColor),
      barThickness: 1.4,
      grouped: false
    }]
  },
  options: {
    responsive: false,
    animation: false,
    events: [],
    layout: { padding: 0 },
    plugins: { legend: { display: false }, tooltip: { enabled: false } },
    scales: {
      x: {
        type: 'linear', min: X_MIN, max: X_MAX, offset: false,
        grid: { color: GRID, drawTicks: false, offset: false },
        border: { display: false },
        ticks: { display: false, autoSkip: false },
        afterBuildTicks: s => { s.ticks = monthDays.map(v => ({ value: v })); },
        afterFit: s => { s.height = 18; s.paddingLeft = 0; s.paddingRight = 0; }
      },
      y: {
        type: 'linear', position: 'right', min: O_MIN, max: O_MAX,
        grid: { color: GRID, drawTicks: false },
        border: { display: false },
        ticks: { display: false, autoSkip: false },
        afterBuildTicks: s => { s.ticks = oscTicks.map(v => ({ value: v })); },
        afterFit: s => { s.width = 49; s.paddingTop = 0; s.paddingBottom = 0; }
      }
    }
  },
  plugins: [oscBg]
});

// ---------- valuation table ----------
const val = document.getElementById('val');
let html = '<div class="ttl">VALUATION</div>';
valNames.forEach((n, i) => {
  const t = 17.5 + i * 11.08;
  const dim = valScores[i] === 'Medium' ? ' dim' : '';
  html += `<div class="lbl" style="top:${t}px">${n}</div><div class="num${dim}" style="top:${t}px">${valScores[i]}</div>`;
});
html += `<div class="zavg">${zAvgText}</div>`;
html += `<div class="verdict">${verdict}</div>`;
html += '<div class="dot" style="left:66px;background:#5ad8a8"></div><div class="dot" style="left:75px;background:#f0b040"></div>';
val.innerHTML = html;
</script>
</body>
</html>
